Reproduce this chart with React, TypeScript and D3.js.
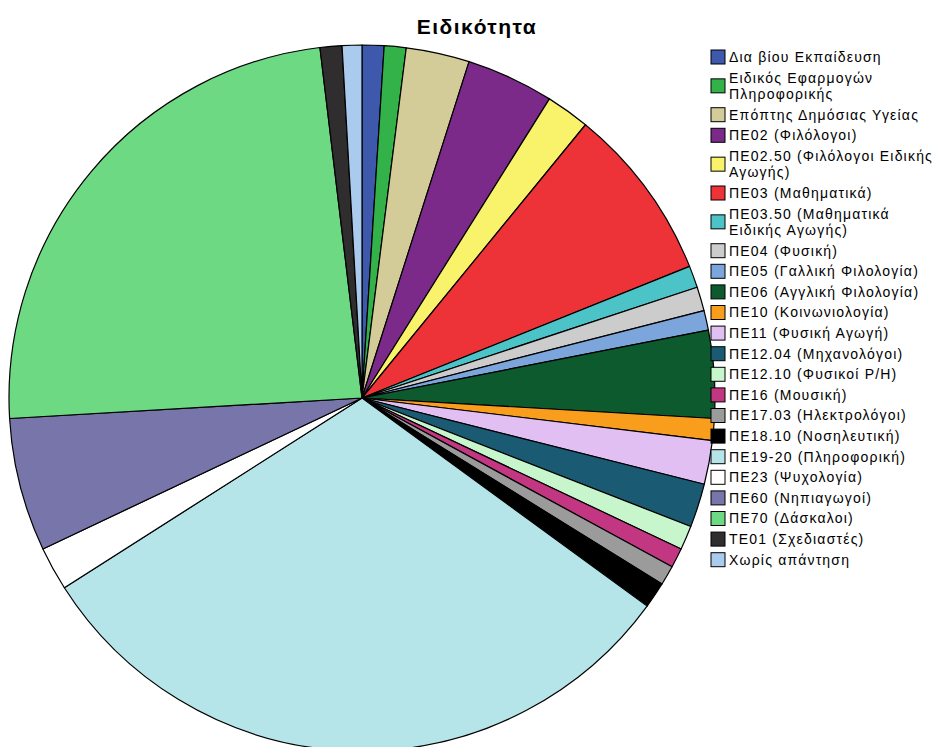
import React from "react";
import * as d3 from "d3";

const categories: string[] = [
  "Δια βίου Εκπαίδευση",
  "Ειδικός Εφαρμογών Πληροφορικής",
  "Επόπτης Δημόσιας Υγείας",
  "ΠΕ02 (Φιλόλογοι)",
  "ΠΕ02.50 (Φιλόλογοι Ειδικής Αγωγής)",
  "ΠΕ03 (Μαθηματικά)",
  "ΠΕ03.50 (Μαθηματικά Ειδικής Αγωγής)",
  "ΠΕ04 (Φυσική)",
  "ΠΕ05 (Γαλλική Φιλολογία)",
  "ΠΕ06 (Αγγλική Φιλολογία)",
  "ΠΕ10 (Κοινωνιολογία)",
  "ΠΕ11 (Φυσική Αγωγή)",
  "ΠΕ12.04 (Μηχανολόγοι)",
  "ΠΕ12.10 (Φυσικοί Ρ/Η)",
  "ΠΕ16 (Μουσική)",
  "ΠΕ17.03 (Ηλεκτρολόγοι)",
  "ΠΕ18.10 (Νοσηλευτική)",
  "ΠΕ19-20 (Πληροφορική)",
  "ΠΕ23 (Ψυχολογία)",
  "ΠΕ60 (Νηπιαγωγοί)",
  "ΠΕ70 (Δάσκαλοι)",
  "ΤΕ01 (Σχεδιαστές)",
  "Χωρίς απάντηση",
];

// legend lines (wrapped as in the reference)
const legendLines: string[][] = [
  ["Δια βίου Εκπαίδευση"],
  ["Ειδικός Εφαρμογών", "Πληροφορικής"],
  ["Επόπτης Δημόσιας Υγείας"],
  ["ΠΕ02 (Φιλόλογοι)"],
  ["ΠΕ02.50 (Φιλόλογοι Ειδικής", "Αγωγής)"],
  ["ΠΕ03 (Μαθηματικά)"],
  ["ΠΕ03.50 (Μαθηματικά", "Ειδικής Αγωγής)"],
  ["ΠΕ04 (Φυσική)"],
  ["ΠΕ05 (Γαλλική Φιλολογία)"],
  ["ΠΕ06 (Αγγλική Φιλολογία)"],
  ["ΠΕ10 (Κοινωνιολογία)"],
  ["ΠΕ11 (Φυσική Αγωγή)"],
  ["ΠΕ12.04 (Μηχανολόγοι)"],
  ["ΠΕ12.10 (Φυσικοί Ρ/Η)"],
  ["ΠΕ16 (Μουσική)"],
  ["ΠΕ17.03 (Ηλεκτρολόγοι)"],
  ["ΠΕ18.10 (Νοσηλευτική)"],
  ["ΠΕ19-20 (Πληροφορική)"],
  ["ΠΕ23 (Ψυχολογία)"],
  ["ΠΕ60 (Νηπιαγωγοί)"],
  ["ΠΕ70 (Δάσκαλοι)"],
  ["ΤΕ01 (Σχεδιαστές)"],
  ["Χωρίς απάντηση"],
];

// percentages
const values: number[] = [
  1.0, 1.0, 2.9, 4.0, 2.0, 8.0, 1.0, 1.1, 0.9, 4.0, 1.0, 2.0, 2.0, 1.1, 0.9,
  0.9, 1.2, 30.9, 2.0, 6.1, 24.0, 1.0, 0.9,
];

const colors: string[] = [
  "#3e58ac", "#33b24a", "#d3cb98", "#7b2a8a", "#f9f36c", "#ee3338",
  "#4cc3c6", "#cccccc", "#7ca5dc", "#0d5a2e", "#f99d1c", "#e2bff3",
  "#1b5a73", "#c8f6cc", "#c33682", "#9b9b9b", "#000000", "#b5e5e8",
  "#ffffff", "#7775aa", "#6dd982", "#2f2d2e", "#aacbee",
];

const title = "Ειδικότητα";

export default function App() {
  const W = 933;
  const H = 747;
  const cx = 362;
  const cy = 398;
  const R = 353;

  const data = categories.map((c, i) => ({ c, v: values[i], color: colors[i], i }));
  const pie = d3
    .pie<{ c: string; v: number; color: string; i: number }>()
    .value((d) => d.v)
    .sort(null)
    .startAngle(0)
    .endAngle(2 * Math.PI);
  const arcs = pie(data);
  const arc = d3
    .arc<d3.PieArcDatum<{ c: string; v: number; color: string; i: number }>>()
    .innerRadius(0)
    .outerRadius(R);

  // legend layout
  const legX = 711;
  const textX = 729;
  const lineH = 16.5;
  const step = 20.6;
  let y = 57;
  const legendItems = legendLines.map((lines, i) => {
    const top = y;
    const center = top + ((lines.length - 1) * lineH) / 2;
    const item = { lines, top, center, i };
    y += step + (lines.length - 1) * lineH;
    return item;
  });

  const font = "'Liberation Sans', Arial, sans-serif";

  return (
    <svg
      width={W}
      height={H}
      style={{ position: "absolute", left: 0, top: 0, background: "#fff" }}
    >
      <text
        x={477}
        y={34}
        textAnchor="middle"
        fontFamily={font}
        fontWeight="bold"
        fontSize={21}
        letterSpacing={1.5}
        fill="#000"
      >
        {title}
      </text>
      <g transform={`translate(${cx},${cy})`}>
        {arcs.map((a, k) => (
          <path
            key={k}
            d={arc(a) || ""}
            fill={a.data.color}
            stroke="#000"
            strokeWidth={1.2}
            strokeLinejoin="round"
          />
        ))}
      </g>
      <g>
        {legendItems.map((it) => (
          <g key={it.i}>
            <rect
              x={legX}
              y={it.center - 7}
              width={14}
              height={14}
              fill={colors[it.i]}
              stroke="#000"
              strokeWidth={1}
            />
            {it.lines.map((ln, j) => (
              <text
                key={j}
                x={textX}
                y={it.top + j * lineH}
                dy="0.35em"
                fontFamily={font}
                fontSize={14}
                letterSpacing={1.2}
                fill="#000"
              >
                {ln}
              </text>
            ))}
          </g>
        ))}
      </g>
    </svg>
  );
}
